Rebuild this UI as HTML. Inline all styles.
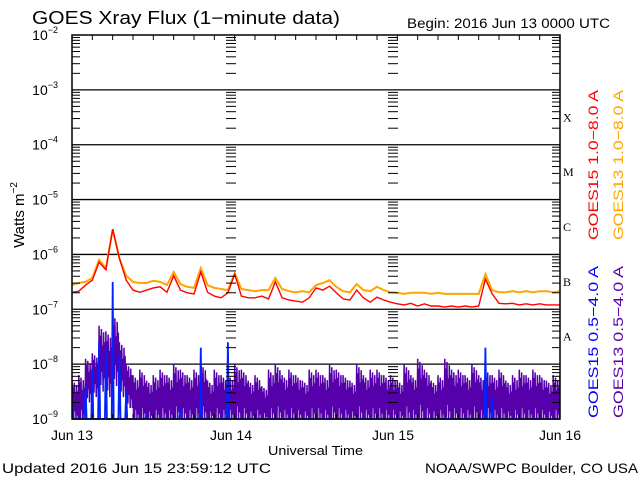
<!DOCTYPE html>
<html><head><meta charset="utf-8"><style>
body{margin:0;background:#fff;}
svg{display:block;font-family:"Liberation Sans",sans-serif;}
</style></head><body>
<svg id="chart" width="640" height="480" viewBox="0 0 640 480">
<rect width="640" height="480" fill="#fff"/>
<text x="32" y="24" font-size="18" fill="#000" textLength="308" lengthAdjust="spacingAndGlyphs">GOES Xray Flux (1−minute data)</text>
<text x="407" y="28" font-size="13.5" fill="#000" textLength="203" lengthAdjust="spacingAndGlyphs">Begin:  2016 Jun 13 0000 UTC</text>
<text transform="translate(24,215) rotate(-90)" text-anchor="middle" font-size="15">Watts m<tspan font-size="10" dy="-7">−2</tspan></text>
<text x="268" y="455" font-size="13" textLength="95" lengthAdjust="spacingAndGlyphs">Universal Time</text>
<text x="2" y="473" font-size="14" textLength="269" lengthAdjust="spacingAndGlyphs">Updated 2016 Jun 15 23:59:12 UTC</text>
<text x="425" y="473" font-size="14" textLength="213" lengthAdjust="spacingAndGlyphs">NOAA/SWPC Boulder, CO USA</text>
<g id="grid"></g>
<g id="series" clip-path="url(#clip)"></g>
<defs><clipPath id="clip"><rect x="72" y="35" width="488" height="385"/></clipPath></defs>
<g id="axes"></g>
<text transform="translate(598,240) rotate(-90)" font-size="14" fill="#ff0000" textLength="150" lengthAdjust="spacingAndGlyphs">GOES15 1.0−8.0 A</text>
<text transform="translate(623,240) rotate(-90)" font-size="14" fill="#ffa500" textLength="150" lengthAdjust="spacingAndGlyphs">GOES13 1.0−8.0 A</text>
<text transform="translate(598,418) rotate(-90)" font-size="14" fill="#0000ff" textLength="152" lengthAdjust="spacingAndGlyphs">GOES15 0.5−4.0 A</text>
<text transform="translate(623,418) rotate(-90)" font-size="14" fill="#5500aa" textLength="152" lengthAdjust="spacingAndGlyphs">GOES13 0.5−4.0 A</text>
</svg>
<script>
const dayLabels = ["Jun 13","Jun 14","Jun 15","Jun 16"];
const decades = [-9,-8,-7,-6,-5,-4,-3,-2];
const flareClasses = ["A","B","C","M","X"];
const red15 = [-6.69,-6.67,-6.56,-6.47,-6.14,-6.28,-5.54,-6.07,-6.47,-6.65,
-6.69,-6.65,-6.61,-6.59,-6.69,-6.39,-6.65,-6.70,-6.72,-6.32,
-6.69,-6.76,-6.79,-6.70,-6.36,-6.76,-6.79,-6.79,-6.76,-6.81,
-6.50,-6.79,-6.83,-6.85,-6.87,-6.79,-6.61,-6.65,-6.58,-6.70,
-6.81,-6.83,-6.65,-6.79,-6.87,-6.78,-6.83,-6.87,-6.90,-6.92,
-6.89,-6.94,-6.90,-6.94,-6.94,-6.96,-6.94,-6.96,-6.94,-6.96,
-6.94,-6.45,-6.72,-6.89,-6.90,-6.89,-6.92,-6.90,-6.92,-6.90,
-6.92,-6.92,-6.92];
const orange13 = [-6.56,-6.52,-6.50,-6.43,-6.10,-6.25,-5.54,-6.07,-6.39,-6.50,
-6.52,-6.52,-6.48,-6.50,-6.56,-6.32,-6.54,-6.59,-6.61,-6.25,
-6.56,-6.61,-6.63,-6.65,-6.34,-6.63,-6.65,-6.67,-6.65,-6.65,
-6.43,-6.63,-6.67,-6.69,-6.67,-6.69,-6.56,-6.52,-6.47,-6.59,
-6.67,-6.69,-6.54,-6.65,-6.67,-6.59,-6.65,-6.69,-6.70,-6.72,
-6.70,-6.70,-6.70,-6.72,-6.70,-6.72,-6.72,-6.72,-6.72,-6.72,
-6.72,-6.36,-6.65,-6.69,-6.69,-6.67,-6.69,-6.67,-6.69,-6.67,
-6.67,-6.69,-6.67];
const blue15 = [-8.7,-9.1,-8.4,-8.1,-7.6,-7.7,-6.5,-7.8,-8.5,-9.1,
-9.2,-8.9,-9.2,-9.2,-9.2,-9.2,-8.8,-9.2,-9.2,-7.7,
-9.2,-9.2,-9.2,-7.6,-9.2,-9.2,-9.2,-9.2,-9.2,-9.2,
-9.2,-9.2,-9.2,-9.2,-9.2,-9.2,-9.2,-9.2,-9.2,-9.2,
-9.2,-9.2,-9.2,-9.2,-9.2,-9.2,-9.2,-9.2,-9.2,-9.2,
-9.2,-9.2,-9.2,-9.2,-9.2,-9.2,-9.2,-9.2,-9.2,-9.2,
-9.2,-7.7,-8.6,-9.2,-9.2,-9.2,-9.2,-9.2,-9.2,-9.2,
-9.2,-9.2,-9.2];
const purpleHi = [-8.3,-8.2,-7.9,-7.8,-7.3,-7.4,-7.1,-7.6,-8.0,-8.2,-8.1,-8.3,-8.2,
-8.1,-8.2,-8.0,-8.1,-8.2,-8.1,-8.0,-8.3,-8.1,-8.2,
-8.2,-8.0,-8.1,-8.3,-8.2,-8.4,-8.1,-8.0,-8.2,-8.1,
-8.2,-8.3,-8.1,-8.1,-8.2,-8.0,-8.1,-8.2,-8.3,-8.0,
-8.2,-8.1,-8.1,-8.2,-8.2,-8.3,-8.0,-8.2,-7.9,-8.1,
-8.3,-8.2,-7.9,-8.1,-8.1,-8.2,-8.0,-8.2,-8.1,-8.2,
-8.1,-8.3,-8.2,-8.1,-8.2,-8.1,-8.2,-8.3,-8.2,-8.2];
const purpleLo = [-9.1,-9.1,-8.7,-8.6,-8.5,-8.6,-8.4,-8.6,-8.8,-9.1,-9.1,-9.1,-9.1,
-9.1,-9.1,-9.1,-9.1,-9.1,-9.1,-9.1,-9.1,-9.1,-9.1,
-9.1,-9.1,-9.1,-9.1,-9.1,-9.1,-9.1,-9.1,-9.1,-9.1,
-9.1,-9.1,-9.1,-9.1,-9.1,-9.1,-9.1,-9.1,-9.1,-9.1,
-9.1,-9.1,-9.1,-9.1,-9.1,-9.1,-9.1,-9.1,-9.1,-9.1,
-9.1,-9.1,-9.1,-9.1,-9.1,-9.1,-9.1,-9.1,-9.1,-9.1,
-9.1,-9.1,-9.1,-9.1,-9.1,-9.1,-9.1,-9.1,-9.1,-9.1];

const NS="http://www.w3.org/2000/svg";
const L=72,R=560,T=35,B=419;
const xs = h => L + (R-L)*h/72;
const ys = e => B - (e+9)*(B-T)/7;
const cy = e => Math.min(B, ys(e));
function mk(tag, attrs, parent){const el=document.createElementNS(NS,tag);for(const k in attrs)el.setAttribute(k,attrs[k]);parent.appendChild(el);return el;}
const grid=document.getElementById('grid'), axes=document.getElementById('axes'), ser=document.getElementById('series');

decades.forEach(d=>{
  const y=ys(d);
  if(d>-9 && d<-2){const ln=mk('line',{x1:L,x2:R,y1:y,y2:y,stroke:'#000','stroke-width':1.3},grid);
  
  }
  const t=mk('text',{x:58,y:y+5,'text-anchor':'end','font-size':14},axes);
  
  
  t.textContent='10';
  const s=mk('tspan',{'font-size':9,dy:-7},t); s.textContent=String(d).replace('-','−');
  if(d<-2){for(let m=2;m<=9;m++){const yy=ys(d+Math.log10(m));
    [[L,L+8],[R-8,R],[226,236],[388,398]].forEach(([a,b])=>{const tk=mk('line',{x1:a,x2:b,y1:yy,y2:yy,stroke:'#000','stroke-width':1},axes);
    
    });}}
});
dayLabels.forEach((lab,i)=>{
  const x = i===1?231:(i===2?393:xs(i*24));
  const t=mk('text',{x:x,y:440,'text-anchor':'middle','font-size':14},axes);
  
  
  t.textContent=lab;
});
for(let h=3;h<72;h+=3){const x=xs(h);
  [[T,T+5],[B-5,B]].forEach(([a,b])=>{const tk=mk('line',{x1:x,x2:x,y1:a,y2:b,stroke:'#000','stroke-width':1},axes);
  
  });}
flareClasses.forEach((c,i)=>{
  const t=mk('text',{x:563,y:ys(-8+i+0.5)+4,'font-size':12,'font-family':'Liberation Serif, serif'},axes);
  
  
  t.textContent=c;
});
const fr=mk('rect',{x:L,y:T,width:R-L,height:B-T,fill:'none',stroke:'#000','stroke-width':1.5},axes);



function line(arr,color,name,w){
  const pts=arr.map((v,i)=>xs(i).toFixed(1)+','+cy(v).toFixed(1)).join(' ');
  const p=mk('polyline',{points:pts,fill:'none',stroke:color,'stroke-width':w},ser);
  
  
}
// purple noise band (dense zigzag between hi and lo each hour)
const mix=[1,0,0.85,0.1,0.95,0.3,0.7,0,0.9,0.2,0.75,0];
let pp=[];
purpleHi.forEach((hi,i)=>{
  const lo=purpleLo[i];
  mix.forEach((f,k)=>{pp.push(xs(i+k/mix.length).toFixed(1)+','+cy(lo+(hi-lo)*f).toFixed(1));});
});
const pl=mk('polyline',{points:pp.join(' '),fill:'none',stroke:'#5500aa','stroke-width':1.5},ser);


// blue: narrow spikes from the floor
let bp=[];
blue15.forEach((v,i)=>{
  bp.push(xs(i-0.15).toFixed(1)+','+cy(-9.2).toFixed(1));
  bp.push(xs(i).toFixed(1)+','+cy(v).toFixed(1));
  bp.push(xs(i+0.15).toFixed(1)+','+cy(-9.2).toFixed(1));
});
const bl=mk('polyline',{points:bp.join(' '),fill:'none',stroke:'#0022ff','stroke-width':1.8},ser);


line(orange13,'#ffa500','goes13-long-series',2);
line(red15,'#ff0000','goes15-long-series',1.4);
</script>
</body></html>
